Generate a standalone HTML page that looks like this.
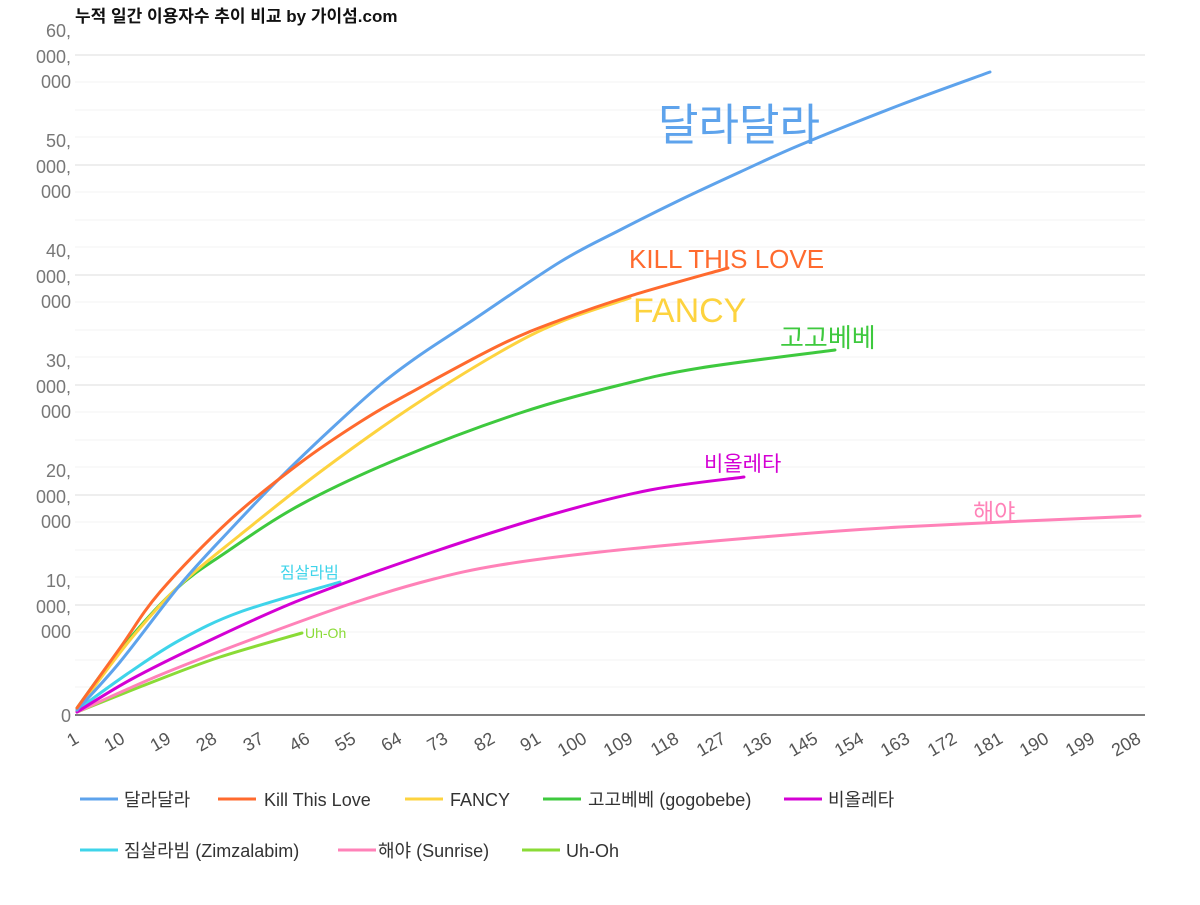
<!DOCTYPE html>
<html><head><meta charset="utf-8"><style>
body{margin:0;background:#fff;}
svg text{font-family:"Liberation Sans","Noto Sans CJK KR",sans-serif;}
</style></head><body>
<svg id="s" width="1200" height="900" xmlns="http://www.w3.org/2000/svg">
<rect width="1200" height="900" fill="#fff"/>
<g stroke="#f3f3f3" stroke-width="1">
<line x1="75" x2="1145" y1="82" y2="82"/><line x1="75" x2="1145" y1="110" y2="110"/><line x1="75" x2="1145" y1="137" y2="137"/>
<line x1="75" x2="1145" y1="192" y2="192"/><line x1="75" x2="1145" y1="220" y2="220"/><line x1="75" x2="1145" y1="247" y2="247"/>
<line x1="75" x2="1145" y1="302" y2="302"/><line x1="75" x2="1145" y1="330" y2="330"/><line x1="75" x2="1145" y1="357" y2="357"/>
<line x1="75" x2="1145" y1="412" y2="412"/><line x1="75" x2="1145" y1="440" y2="440"/><line x1="75" x2="1145" y1="467" y2="467"/>
<line x1="75" x2="1145" y1="522" y2="522"/><line x1="75" x2="1145" y1="550" y2="550"/><line x1="75" x2="1145" y1="577" y2="577"/>
<line x1="75" x2="1145" y1="632" y2="632"/><line x1="75" x2="1145" y1="660" y2="660"/><line x1="75" x2="1145" y1="687" y2="687"/>
</g>
<g stroke="#e8e8e8" stroke-width="1.5">
<line x1="75" x2="1145" y1="55" y2="55"/><line x1="75" x2="1145" y1="165" y2="165"/><line x1="75" x2="1145" y1="275" y2="275"/>
<line x1="75" x2="1145" y1="385" y2="385"/><line x1="75" x2="1145" y1="495" y2="495"/><line x1="75" x2="1145" y1="605" y2="605"/>
</g>
<line x1="75" x2="1145" y1="715" y2="715" stroke="#555" stroke-width="1.5"/>
<text x="75" y="22" font-size="17" font-weight="bold" fill="#111">누적 일간 이용자수 추이 비교 by 가이섬.com</text>
<g font-size="18" fill="#777" text-anchor="end">
<text x="71" y="37">60,</text><text x="71" y="63">000,</text><text x="71" y="88">000</text>
<text x="71" y="147">50,</text><text x="71" y="173">000,</text><text x="71" y="198">000</text>
<text x="71" y="257">40,</text><text x="71" y="283">000,</text><text x="71" y="308">000</text>
<text x="71" y="367">30,</text><text x="71" y="393">000,</text><text x="71" y="418">000</text>
<text x="71" y="477">20,</text><text x="71" y="503">000,</text><text x="71" y="528">000</text>
<text x="71" y="587">10,</text><text x="71" y="613">000,</text><text x="71" y="638">000</text>
<text x="71" y="722">0</text>
</g>
<g font-size="18" fill="#555" text-anchor="end">
<text transform="translate(80,742) rotate(-30)">1</text>
<text transform="translate(126,742) rotate(-30)">10</text>
<text transform="translate(172,742) rotate(-30)">19</text>
<text transform="translate(218,742) rotate(-30)">28</text>
<text transform="translate(265,742) rotate(-30)">37</text>
<text transform="translate(311,742) rotate(-30)">46</text>
<text transform="translate(357,742) rotate(-30)">55</text>
<text transform="translate(403,742) rotate(-30)">64</text>
<text transform="translate(449,742) rotate(-30)">73</text>
<text transform="translate(496,742) rotate(-30)">82</text>
<text transform="translate(542,742) rotate(-30)">91</text>
<text transform="translate(588,742) rotate(-30)">100</text>
<text transform="translate(634,742) rotate(-30)">109</text>
<text transform="translate(680,742) rotate(-30)">118</text>
<text transform="translate(727,742) rotate(-30)">127</text>
<text transform="translate(773,742) rotate(-30)">136</text>
<text transform="translate(819,742) rotate(-30)">145</text>
<text transform="translate(865,742) rotate(-30)">154</text>
<text transform="translate(911,742) rotate(-30)">163</text>
<text transform="translate(958,742) rotate(-30)">172</text>
<text transform="translate(1004,742) rotate(-30)">181</text>
<text transform="translate(1050,742) rotate(-30)">190</text>
<text transform="translate(1096,742) rotate(-30)">199</text>
<text transform="translate(1142,742) rotate(-30)">208</text>
</g>
<g id="lines" fill="none" stroke-width="3" stroke-linejoin="round" stroke-linecap="round">
<polyline stroke="#8adb36" points="77,712 150,683 220,657 302,633"/>
<polyline stroke="#ff82b8" points="77,712 160,675 250,640 350,604 430,580 500,565 600,552 750,538 900,527 1140,516"/>
<polyline stroke="#3fd4ea" points="77,710 130,672 180,640 240,612 340,582"/>
<polyline stroke="#d400d4" points="77,712 130,680 200,645 300,600 430,553 550,515 650,490 744,477"/>
<polyline stroke="#3ec93e" points="77,708 120,650 175,590 225,553 300,505 400,458 520,413 620,385 700,368 835,350"/>
<polyline stroke="#fdd33f" points="77,710 130,640 180,585 240,535 320,472 410,408 500,352 560,322 630,298"/>
<polyline stroke="#5ea3ec" points="77,710 120,662 180,585 230,530 280,478 330,430 380,385 420,355 470,322 560,262 620,230 680,200 740,172 800,145 900,105 990,72"/>
<polyline stroke="#ff6a2e" points="77,708 120,648 160,592 230,520 300,463 360,422 410,393 500,345 560,320 630,296 728,268"/>
</g>
<text x="658" y="140" font-size="44" fill="#5ea3ec">달라달라</text>
<text x="629" y="268" font-size="26" fill="#ff6a2e">KILL THIS LOVE</text>
<text x="633" y="322" font-size="34" fill="#fdd33f">FANCY</text>
<text x="780" y="347" font-size="26" fill="#3ec93e">고고베베</text>
<text x="704" y="471" font-size="21" fill="#d400d4">비올레타</text>
<text x="973" y="520" font-size="23" fill="#ff82b8">해야</text>
<text x="280" y="578" font-size="16" fill="#3fd4ea">짐살라빔</text>
<text x="305" y="638" font-size="14" fill="#8adb36">Uh-Oh</text>
<g stroke-width="3">
<line x1="80" x2="118" y1="799" y2="799" stroke="#5ea3ec"/>
<line x1="218" x2="256" y1="799" y2="799" stroke="#ff6a2e"/>
<line x1="405" x2="443" y1="799" y2="799" stroke="#fdd33f"/>
<line x1="543" x2="581" y1="799" y2="799" stroke="#3ec93e"/>
<line x1="784" x2="822" y1="799" y2="799" stroke="#d400d4"/>
<line x1="80" x2="118" y1="850" y2="850" stroke="#3fd4ea"/>
<line x1="338" x2="376" y1="850" y2="850" stroke="#ff82b8"/>
<line x1="522" x2="560" y1="850" y2="850" stroke="#8adb36"/>
</g>
<g font-size="18" fill="#333">
<text x="124" y="806">달라달라</text>
<text x="264" y="806">Kill This Love</text>
<text x="450" y="806">FANCY</text>
<text x="588" y="806">고고베베 (gogobebe)</text>
<text x="828" y="806">비올레타</text>
<text x="124" y="857">짐살라빔 (Zimzalabim)</text>
<text x="378" y="857">해야 (Sunrise)</text>
<text x="566" y="857">Uh-Oh</text>
</g>
</svg>
<script>
document.querySelectorAll('#lines polyline').forEach(function(pl){
  var p=pl.getAttribute('points').trim().split(/\s+/).map(function(s){return s.split(',').map(Number);});
  var d='M'+p[0][0]+','+p[0][1];
  for(var i=0;i<p.length-1;i++){
    var p0=p[i-1]||p[i],p1=p[i],p2=p[i+1],p3=p[i+2]||p2;
    var c1x=p1[0]+(p2[0]-p0[0])/6,c1y=p1[1]+(p2[1]-p0[1])/6;
    var c2x=p2[0]-(p3[0]-p1[0])/6,c2y=p2[1]-(p3[1]-p1[1])/6;
    d+=' C'+c1x+','+c1y+' '+c2x+','+c2y+' '+p2[0]+','+p2[1];
  }
  var path=document.createElementNS('http://www.w3.org/2000/svg','path');
  path.setAttribute('d',d);path.setAttribute('stroke',pl.getAttribute('stroke'));
  pl.parentNode.replaceChild(path,pl);
});
</script>
</body></html>
